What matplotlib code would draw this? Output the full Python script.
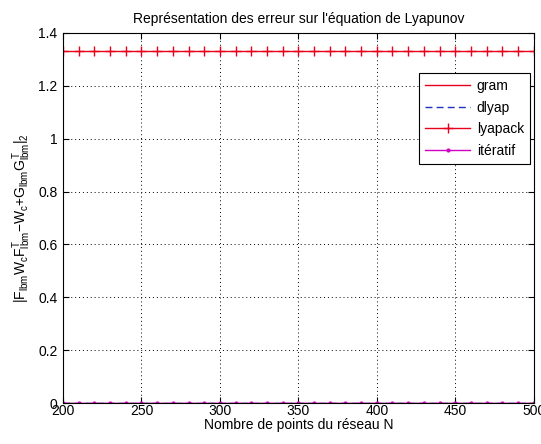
import matplotlib
matplotlib.use("Agg")
import matplotlib.pyplot as plt
import numpy as np

plt.rcParams['font.family'] = ['Liberation Sans', 'DejaVu Sans']
plt.rcParams['mathtext.fontset'] = 'custom'
plt.rcParams['mathtext.rm'] = 'Liberation Sans'
plt.rcParams['mathtext.it'] = 'Liberation Sans'

N = np.arange(200, 501, 10)
gram = [0.0] * len(N)
dlyap = [0.0] * len(N)
lyapack = [1.333] * len(N)
iteratif = [0.0] * len(N)

fig = plt.figure(figsize=(5.41, 4.44), dpi=100)
ax = fig.add_axes([0.1165, 0.0923, 0.870, 0.8334])

ax.plot(N, gram, color='#e8001c', lw=1.0, label='gram')
ax.plot(N, dlyap, color='#2030c0', lw=1.0, ls=(0, (5, 3)), label='dlyap')
ax.plot(N, lyapack, color='#e8001c', lw=1.0, marker='+', ms=7, mew=1.0, label='lyapack')
ax.plot(N, iteratif, color='#d000c0', lw=1.0, marker='.', ms=4, label='itératif')

ax.set_xlim(200, 500)
ax.set_ylim(0, 1.4)
ax.set_xticks(np.arange(200, 501, 50))
ax.set_yticks(np.arange(0, 1.41, 0.2))
ax.set_yticklabels(['0', '0.2', '0.4', '0.6', '0.8', '1', '1.2', '1.4'])
ax.tick_params(direction='in', labelsize=10, length=4, top=True, right=True)
ax.tick_params(axis='x', pad=1)
ax.tick_params(axis='y', pad=4)
ax.grid(True, color='black', ls=(0, (1, 3)), lw=0.7)
for s in ax.spines.values():
    s.set_linewidth(0.8)

ax.set_title("Représentation des erreur sur l'équation de Lyapunov", fontsize=10, pad=7)
ax.set_xlabel('Nombre de points du réseau N', fontsize=10, labelpad=0)
ax.set_ylabel(r'$|F_{lbm}W_cF^T_{lbm}\mathregular{-}W_c\mathregular{+}G_{lbm}G^T_{lbm}|_2$', fontsize=10, labelpad=4)

leg = ax.legend(loc='upper right', bbox_to_anchor=(0.9985, 0.9), fontsize=10,
                fancybox=False, framealpha=1, edgecolor='black',
                handlelength=3.2, borderpad=0.45, labelspacing=0.55, handletextpad=0.5,
                borderaxespad=0.2)
leg.get_frame().set_linewidth(0.8)

fig.savefig('out.png', dpi=100)
